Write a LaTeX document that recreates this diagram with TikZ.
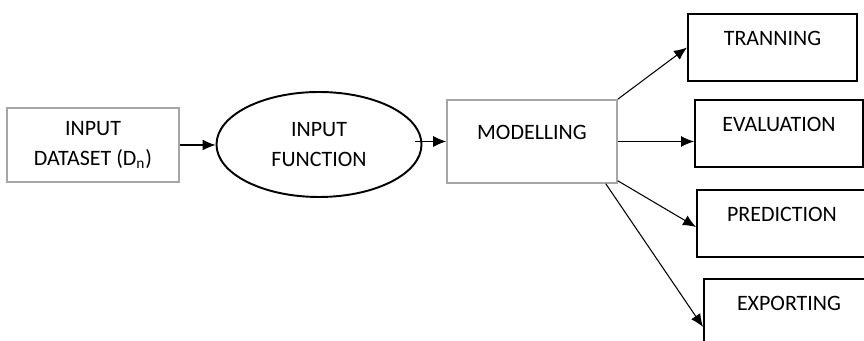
\documentclass[tikz,border=0pt]{standalone}
\usepackage{fontspec}
\setmainfont{Carlito}
\usetikzlibrary{shapes,arrows.meta}

\begin{document}
\begin{tikzpicture}
\tikzstyle{every node}=[font=\fontsize{12.5}{17}\selectfont]
\tikzstyle{graybox}=[draw={rgb,255:red,166; green,166; blue,166}, line width=0.9pt, inner sep=0pt]
\tikzstyle{stagebox}=[draw, line width=1.1pt, inner sep=0pt, minimum width=3.38cm, text height=0.63cm, text depth=0.71cm]
\tikzstyle{arr}=[-{Latex[length=2.6mm,width=2.2mm]}, line width=0.6pt]
\useasboundingbox (0,0) rectangle (17.28,6.82);
\clip (0,0) rectangle (17.28,6.82);
\node [graybox, minimum width=3.44cm, minimum height=1.48cm, align=center] (dataset) at (1.86,3.92) {INPUT\\DATASET (D\textsubscript{n})};
\node [draw, ellipse, line width=1.1pt, minimum width=4.1cm, minimum height=2.1cm, inner sep=0pt, align=center] (func) at (6.38,3.93) {INPUT\\FUNCTION};
\node [graybox, minimum width=3.4cm, text height=0.79cm, text depth=0.87cm] (model) at (10.64,3.99) {MODELLING};
\node [stagebox] (train) at (15.45,5.87) {TRANNING};
\node [stagebox, minimum width=3.36cm] (eval) at (15.58,4.15) {EVALUATION};
\node [stagebox, minimum width=3.4cm] (pred) at (15.64,2.35) {PREDICTION};
\node [stagebox, minimum width=3.4cm] (export) at (15.78,0.57) {EXPORTING};
\coordinate (exin) at ([yshift=-0.29cm]export.west);
\draw [arr] (dataset.east) -- (dataset.east -| func.west);
\draw [arr] ([xshift=-0.15cm]model.west -| func.east) -- (model.west);
\draw [arr] (model.north east) -- (train.west);
\draw [arr] (model.east) -- (model.east -| eval.west);
\draw [arr] ([yshift=0.06cm]model.south east) -- ([yshift=-0.07cm]pred.west);
\draw [arr] ([xshift=-0.24cm]model.south east) -- (exin);
\end{tikzpicture}
\end{document}
